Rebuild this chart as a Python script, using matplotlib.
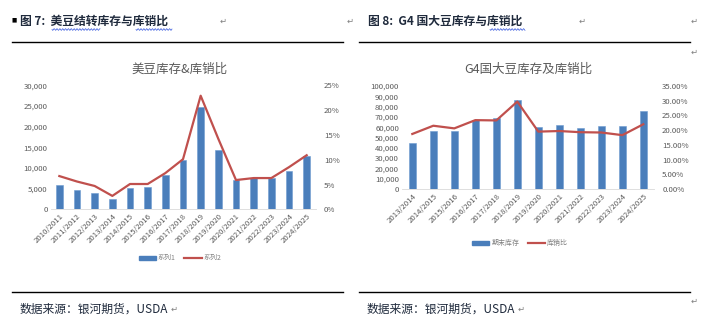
import numpy as np
import matplotlib
matplotlib.use("Agg")
import matplotlib.pyplot as plt
from matplotlib.patches import Patch
from matplotlib.lines import Line2D
from matplotlib.ticker import FuncFormatter

plt.rcParams['font.family'] = ['Noto Sans CJK SC', 'DejaVu Sans']

# chart 7: US soybean ending stocks
us_years = ["2010/2011", "2011/2012", "2012/2013", "2013/2014", "2014/2015",
            "2015/2016", "2016/2017", "2017/2018", "2018/2019", "2019/2020",
            "2020/2021", "2021/2022", "2022/2023", "2023/2024", "2024/2025"]
us_stocks = [5800, 4600, 3900, 2500, 5200, 5350, 8200, 11900, 24700, 14300,
             7100, 7500, 7500, 9300, 12900]
us_ratio = [6.7, 5.6, 4.7, 2.7, 5.1, 5.1, 7.3, 10.1, 22.9, 14.2,
            5.9, 6.3, 6.3, 8.5, 10.9]

# chart 8: G4 soybean stocks
g4_years = ["2013/2014", "2014/2015", "2015/2016", "2016/2017", "2017/2018",
            "2018/2019", "2019/2020", "2020/2021", "2021/2022", "2022/2023",
            "2023/2024", "2024/2025"]
g4_stocks = [44400, 56600, 56300, 67000, 68600, 86400, 60500, 62100, 58900,
             61200, 61500, 75700]
g4_ratio = [18.7, 21.5, 20.6, 23.4, 23.3, 29.7, 19.5, 19.7, 19.3, 19.2, 18.3, 22.0]

W, H = 714, 331
BLUE = "#4a7ebb"
RED = "#c0504d"
GREY = "#595959"

fig = plt.figure(figsize=(W / 100, H / 100), dpi=100)


def px_axes(left, top, right, bottom):
    return fig.add_axes([left / W, 1 - bottom / H, (right - left) / W, (bottom - top) / H])


def draw_chart(ax, years, stocks, ratio, ymax, ystep, rmax, rstep, pct_fmt, width):
    x = np.arange(len(years))
    ax.bar(x, stocks, width=width, color=BLUE, edgecolor="#6d9bd1", linewidth=0.4, zorder=2)
    ax.set_xlim(-0.5, len(years) - 0.5)
    ax.set_ylim(0, ymax)
    ax.set_yticks(np.arange(0, ymax + 1, ystep))
    ax.yaxis.set_major_formatter(FuncFormatter(lambda v, p: f"{int(v):,}"))
    ax.set_xticks(x)
    ax.set_xticklabels(years, rotation=45, ha="right", rotation_mode="anchor")
    ax.tick_params(axis="both", length=0, labelsize=5.6, colors=GREY, pad=2)
    for s in ["top", "left", "right"]:
        ax.spines[s].set_visible(False)
    ax.spines["bottom"].set_color("#d9d9d9")
    ax.spines["bottom"].set_linewidth(0.6)

    ax2 = ax.twinx()
    ax2.plot(x, ratio, color=RED, linewidth=1.6, zorder=3)
    ax2.set_ylim(0, rmax)
    ax2.set_yticks(np.arange(0, rmax + 0.001, rstep))
    ax2.yaxis.set_major_formatter(FuncFormatter(pct_fmt))
    ax2.tick_params(axis="y", length=0, labelsize=5.6, colors=GREY, pad=6)
    for s in ax2.spines.values():
        s.set_visible(False)
    return ax2


ax1 = px_axes(50.5, 85.3, 315.5, 209.3)
draw_chart(ax1, us_years, us_stocks, us_ratio, 30000, 5000, 25, 5,
           lambda v, p: f"{int(round(v))}%", 0.36)

ax3 = px_axes(401.8, 86, 653.8, 189)
draw_chart(ax3, g4_years, g4_stocks, g4_ratio, 100000, 10000, 35, 5,
           lambda v, p: f"{v:.2f}%", 0.33)

# chart titles
fig.text(180 / W, 1 - 69 / H, "美豆库存&库销比", ha="center", va="center",
         fontsize=9, color=GREY)
fig.text(528 / W, 1 - 69 / H, "G4国大豆库存及库销比", ha="center", va="center",
         fontsize=9, color=GREY)

# legends
fig.legend(handles=[Patch(color=BLUE), Line2D([], [], color=RED, linewidth=1.6)],
           labels=["系列1", "系列2"], loc="center", bbox_to_anchor=(180 / W, 1 - 258 / H),
           ncol=2, frameon=False, fontsize=5, labelcolor="#808080",
           handlelength=2.5, handleheight=0.5, columnspacing=1.2, handletextpad=0.3)
fig.legend(handles=[Patch(color=BLUE), Line2D([], [], color=RED, linewidth=1.6)],
           labels=["期末库存", "库销比"], loc="center", bbox_to_anchor=(520 / W, 1 - 243 / H),
           ncol=2, frameon=False, fontsize=5, labelcolor="#808080",
           handlelength=2.5, handleheight=0.5, columnspacing=1.2, handletextpad=0.3)

# report headers and footers
fig.text(14.5 / W, 1 - 20 / H, "■", ha="center", va="center", fontsize=4, color="black",
         family=["DejaVu Sans"])
fig.text(20 / W, 1 - 21 / H, "图 7:  美豆结转库存与库销比", ha="left", va="center",
         fontsize=8.5, fontweight="bold", color="#1f2a3c")
fig.text(368 / W, 1 - 21 / H, "图 8:  G4 国大豆库存与库销比", ha="left", va="center",
         fontsize=8.5, fontweight="bold", color="#1f2a3c")

# spell-check squiggles
for x0, x1 in [(52, 100), (136, 172), (490, 525)]:
    t = np.linspace(x0, x1, 200)
    fig.add_artist(Line2D(t / W, 1 - (29.5 + 0.8 * np.sin((t - x0) * 2.2)) / H,
                          color="#3355dd", linewidth=0.5))

for x0, x1 in [(12, 343), (359, 690)]:
    for y in (42, 292):
        fig.add_artist(Line2D([x0 / W, x1 / W], [1 - y / H, 1 - y / H],
                              color="black", linewidth=1.0))
fig.text(20 / W, 1 - 309 / H, "数据来源：银河期货，USDA", ha="left", va="center",
         fontsize=8.5, color="#1f2a3c")
fig.text(367 / W, 1 - 309 / H, "数据来源：银河期货，USDA", ha="left", va="center",
         fontsize=8.5, color="#1f2a3c")

# paragraph marks
for px, py in [(223, 21), (350, 21), (174, 309), (582, 21), (694, 21), (694, 52),
               (694, 301), (521, 309)]:
    fig.text(px / W, 1 - py / H, "↵", ha="center", va="center", fontsize=6,
             color="#7f7f7f", family=["DejaVu Sans"])

fig.savefig("out.png", dpi=100)
